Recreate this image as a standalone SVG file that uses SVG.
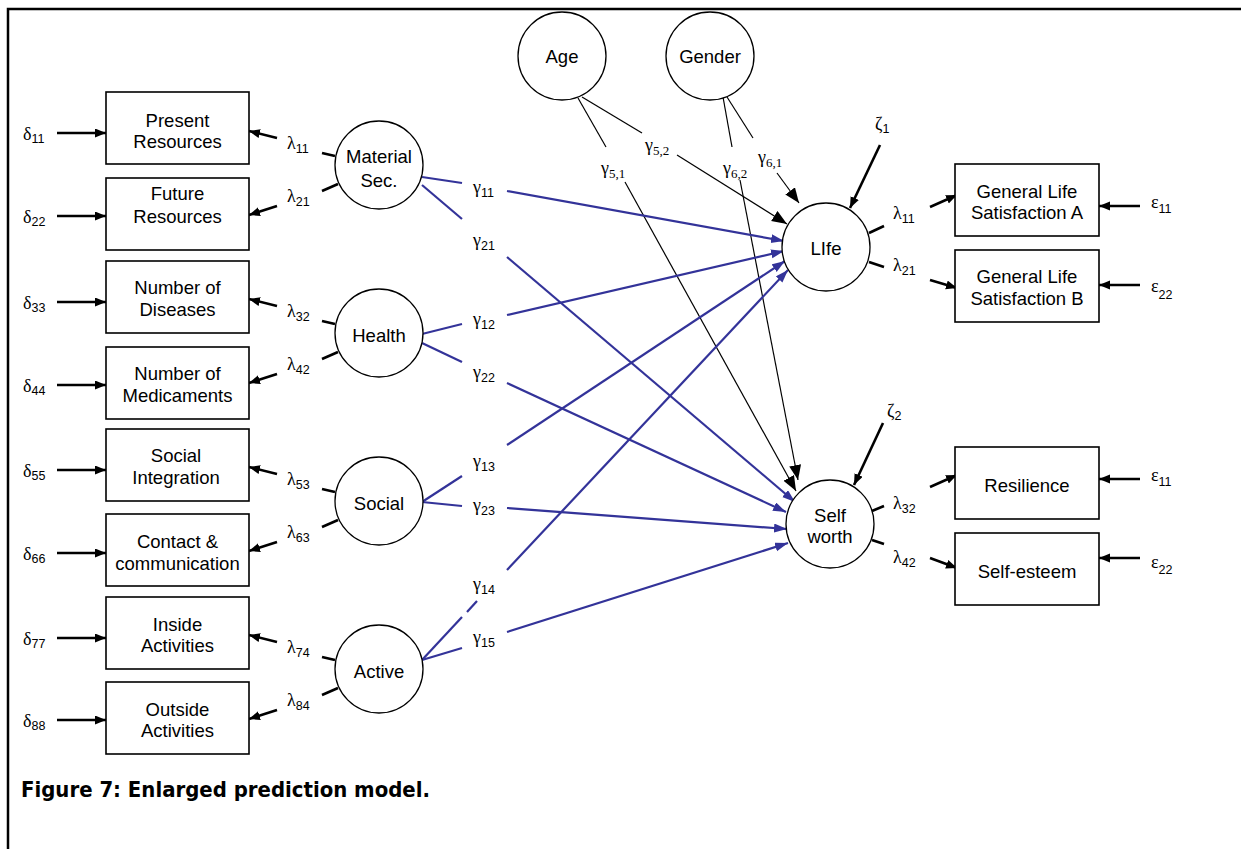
<svg xmlns="http://www.w3.org/2000/svg" width="1241" height="849" viewBox="0 0 1241 849">
<defs>
<style>
.box{fill:#fff;stroke:#000;stroke-width:1.6}
.circ{fill:#fff;stroke:#000;stroke-width:1.3}
.t{font-family:"Liberation Sans",Arial,sans-serif;font-size:18.5px;text-anchor:middle;fill:#000}
.g{font-family:"Liberation Serif","Times New Roman",serif;font-size:18px;fill:#000}
.sub{font-family:"Liberation Sans",Arial,sans-serif;font-size:12.5px}
.subs{font-family:"Liberation Serif","Times New Roman",serif;font-size:13px}
.thick{stroke:#000;stroke-width:2.6;fill:none}
.thin{stroke:#000;stroke-width:1.2;fill:none}
.blue{stroke:#333399;stroke-width:2.2;fill:none}
.frame{stroke:#000;stroke-width:2.5;fill:none}
.cap{font-family:"DejaVu Sans Condensed","DejaVu Sans",sans-serif;font-stretch:condensed;font-weight:bold;font-size:22px;fill:#000}
</style>
<marker id="ak" markerUnits="userSpaceOnUse" markerWidth="12" markerHeight="10" refX="11" refY="4.5" orient="auto"><path d="M0,0 L11,4.5 L0,9 z" fill="#000"/></marker>
<marker id="ab" markerUnits="userSpaceOnUse" markerWidth="14" markerHeight="10" refX="13" refY="4.5" orient="auto"><path d="M0,0 L13,4.5 L0,9 z" fill="#333399"/></marker>
<marker id="abig" markerUnits="userSpaceOnUse" markerWidth="16" markerHeight="13" refX="15" refY="6" orient="auto"><path d="M0,0 L15,6 L0,12 z" fill="#000"/></marker>
</defs>
<rect width="1241" height="849" fill="#fff"/>
<path class="frame" d="M8,849 L8,9 L1241,9"/>

<g id="connectors">
  <!-- delta arrows -->
  <g class="thick" marker-end="url(#ak)">
    <line x1="57" y1="133" x2="106" y2="133"/>
    <line x1="57" y1="216" x2="106" y2="216"/>
    <line x1="57" y1="302" x2="106" y2="302"/>
    <line x1="57" y1="385" x2="106" y2="385"/>
    <line x1="57" y1="470" x2="106" y2="470"/>
    <line x1="57" y1="553" x2="106" y2="553"/>
    <line x1="57" y1="638" x2="106" y2="638"/>
    <line x1="57" y1="720" x2="106" y2="720"/>
    <!-- left lambda arrows -->
    <line x1="277" y1="138" x2="249" y2="131"/>
    <line x1="277" y1="206" x2="249" y2="215"/>
    <line x1="277" y1="306" x2="249" y2="299"/>
    <line x1="277" y1="374" x2="249" y2="383"/>
    <line x1="277" y1="474" x2="249" y2="467"/>
    <line x1="277" y1="542" x2="249" y2="551"/>
    <line x1="277" y1="642" x2="249" y2="635"/>
    <line x1="277" y1="710" x2="249" y2="719"/>
    <!-- right lambda arrows -->
    <line x1="930" y1="207" x2="957" y2="195"/>
    <line x1="930" y1="280" x2="957" y2="288"/>
    <line x1="930" y1="487" x2="957" y2="475"/>
    <line x1="930" y1="558" x2="957" y2="568"/>
    <!-- epsilon arrows -->
    <line x1="1140" y1="206" x2="1099" y2="206"/>
    <line x1="1140" y1="285" x2="1099" y2="285"/>
    <line x1="1140" y1="479" x2="1099" y2="479"/>
    <line x1="1140" y1="558" x2="1099" y2="558"/>
    <!-- zeta arrows -->
    <line x1="880" y1="145" x2="850" y2="208"/>
    <line x1="883" y1="423" x2="854" y2="485"/>
  </g>
  <!-- stubs from latent circles -->
  <g class="thick">
    <line x1="322" y1="153" x2="335" y2="156"/>
    <line x1="322" y1="191" x2="338" y2="184"/>
    <line x1="322" y1="321" x2="335" y2="324"/>
    <line x1="322" y1="359" x2="338" y2="352"/>
    <line x1="322" y1="489" x2="335" y2="492"/>
    <line x1="322" y1="527" x2="338" y2="520"/>
    <line x1="322" y1="657" x2="335" y2="660"/>
    <line x1="322" y1="695" x2="338" y2="688"/>
    <line x1="869" y1="233" x2="884" y2="226"/>
    <line x1="869" y1="262" x2="884" y2="267"/>
    <line x1="872" y1="511" x2="884" y2="506"/>
    <line x1="872" y1="540" x2="884" y2="544"/>
  </g>
  <!-- covariates (thin black) -->
  <g class="thin">
    <line x1="582" y1="97" x2="642" y2="133"/>
    <line x1="578" y1="98" x2="606" y2="147"/>
    <line x1="723" y1="97" x2="732" y2="147"/>
    <line x1="727" y1="97" x2="753" y2="138"/>
  </g>
  <g class="thin" marker-end="url(#abig)">
    <line x1="677" y1="155" x2="787" y2="224"/>
    <line x1="625" y1="182" x2="796" y2="491"/>
    <line x1="740" y1="180" x2="798" y2="480"/>
    <line x1="777" y1="173" x2="799" y2="203"/>
  </g>
  <!-- blue structural paths -->
  <g class="blue">
    <line x1="422" y1="177" x2="462" y2="183"/>
    <line x1="422" y1="185" x2="462" y2="219"/>
    <line x1="422" y1="334" x2="462" y2="324"/>
    <line x1="422" y1="343" x2="462" y2="362"/>
    <line x1="422" y1="502" x2="462" y2="476"/>
    <line x1="422" y1="502" x2="462" y2="506"/>
    <line x1="422" y1="660" x2="462" y2="617"/>
    <line x1="467" y1="612" x2="477" y2="601"/>
    <line x1="422" y1="660" x2="462" y2="648"/>
  </g>
  <g class="blue" marker-end="url(#ab)">
    <line x1="507" y1="191" x2="784" y2="241"/>
    <line x1="507" y1="257" x2="795" y2="502"/>
    <line x1="507" y1="315" x2="784" y2="251"/>
    <line x1="507" y1="383" x2="786" y2="512"/>
    <line x1="507" y1="445" x2="785" y2="261"/>
    <line x1="507" y1="508" x2="787" y2="529"/>
    <line x1="507" y1="570" x2="788" y2="270"/>
    <line x1="507" y1="632" x2="788" y2="543"/>
  </g>

  <!-- labels: delta -->
  <g class="g">
    <text x="23" y="140">δ<tspan class="sub" dy="3">11</tspan></text>
    <text x="23" y="223">δ<tspan class="sub" dy="3">22</tspan></text>
    <text x="23" y="309">δ<tspan class="sub" dy="3">33</tspan></text>
    <text x="23" y="392">δ<tspan class="sub" dy="3">44</tspan></text>
    <text x="23" y="477">δ<tspan class="sub" dy="3">55</tspan></text>
    <text x="23" y="560">δ<tspan class="sub" dy="3">66</tspan></text>
    <text x="23" y="645">δ<tspan class="sub" dy="3">77</tspan></text>
    <text x="23" y="727">δ<tspan class="sub" dy="3">88</tspan></text>
    <!-- lambda left -->
    <text x="287" y="149">λ<tspan class="sub" dy="4">11</tspan></text>
    <text x="287" y="202">λ<tspan class="sub" dy="4">21</tspan></text>
    <text x="287" y="317">λ<tspan class="sub" dy="4">32</tspan></text>
    <text x="287" y="370">λ<tspan class="sub" dy="4">42</tspan></text>
    <text x="287" y="485">λ<tspan class="sub" dy="4">53</tspan></text>
    <text x="287" y="538">λ<tspan class="sub" dy="4">63</tspan></text>
    <text x="287" y="653">λ<tspan class="sub" dy="4">74</tspan></text>
    <text x="287" y="706">λ<tspan class="sub" dy="4">84</tspan></text>
    <!-- gamma blue -->
    <text x="473" y="193">γ<tspan class="sub" dy="4">11</tspan></text>
    <text x="473" y="246">γ<tspan class="sub" dy="4">21</tspan></text>
    <text x="473" y="325">γ<tspan class="sub" dy="4">12</tspan></text>
    <text x="473" y="378">γ<tspan class="sub" dy="4">22</tspan></text>
    <text x="473" y="467">γ<tspan class="sub" dy="4">13</tspan></text>
    <text x="473" y="511">γ<tspan class="sub" dy="4">23</tspan></text>
    <text x="473" y="590">γ<tspan class="sub" dy="4">14</tspan></text>
    <text x="473" y="643">γ<tspan class="sub" dy="4">15</tspan></text>
    <!-- gamma covariates -->
    <text x="645" y="151">γ<tspan class="subs" dy="4">5,2</tspan></text>
    <text x="601" y="174">γ<tspan class="subs" dy="4">5,1</tspan></text>
    <text x="723" y="174">γ<tspan class="subs" dy="4">6,2</tspan></text>
    <text x="758" y="163">γ<tspan class="subs" dy="4">6,1</tspan></text>
    <!-- zeta -->
    <text x="875" y="130">ζ<tspan class="sub" dy="3">1</tspan></text>
    <text x="887" y="417">ζ<tspan class="sub" dy="3">2</tspan></text>
    <!-- lambda right -->
    <text x="893" y="219">λ<tspan class="sub" dy="4">11</tspan></text>
    <text x="893" y="271">λ<tspan class="sub" dy="4">21</tspan></text>
    <text x="893" y="509">λ<tspan class="sub" dy="4">32</tspan></text>
    <text x="893" y="563">λ<tspan class="sub" dy="4">42</tspan></text>
    <!-- epsilon -->
    <text x="1151" y="208">ε<tspan class="sub" dy="5">11</tspan></text>
    <text x="1151" y="292">ε<tspan class="sub" dy="7">22</tspan></text>
    <text x="1151" y="481">ε<tspan class="sub" dy="5">11</tspan></text>
    <text x="1151" y="568">ε<tspan class="sub" dy="6">22</tspan></text>
  </g>
</g>

<!-- indicator boxes left -->
<g id="n-present"><rect class="box" x="106" y="92" width="143" height="72"/><text class="t" x="177.5" y="127">Present</text><text class="t" x="177.5" y="148">Resources</text></g>
<g id="n-future"><rect class="box" x="106" y="178" width="143" height="72"/><text class="t" x="177.5" y="200">Future</text><text class="t" x="177.5" y="223">Resources</text></g>
<g id="n-diseases"><rect class="box" x="106" y="261" width="143" height="72"/><text class="t" x="177.5" y="294">Number of</text><text class="t" x="177.5" y="316">Diseases</text></g>
<g id="n-medicaments"><rect class="box" x="106" y="347" width="143" height="72"/><text class="t" x="177.5" y="380">Number of</text><text class="t" x="177.5" y="402">Medicaments</text></g>
<g id="n-integration"><rect class="box" x="106" y="429" width="143" height="72"/><text class="t" x="176" y="462">Social</text><text class="t" x="176" y="484">Integration</text></g>
<g id="n-contact"><rect class="box" x="106" y="514" width="143" height="72"/><text class="t" x="177.5" y="548">Contact &amp;</text><text class="t" x="177.5" y="570">communication</text></g>
<g id="n-inside"><rect class="box" x="106" y="597" width="143" height="72"/><text class="t" x="177.5" y="631">Inside</text><text class="t" x="177.5" y="652">Activities</text></g>
<g id="n-outside"><rect class="box" x="106" y="682" width="143" height="72"/><text class="t" x="177.5" y="716">Outside</text><text class="t" x="177.5" y="737">Activities</text></g>

<!-- latent exogenous -->
<g id="n-material"><circle class="circ" cx="379" cy="165" r="44"/><text class="t" x="379" y="163">Material</text><text class="t" x="379" y="187">Sec.</text></g>
<g id="n-health"><circle class="circ" cx="379" cy="333" r="44"/><text class="t" x="379" y="342">Health</text></g>
<g id="n-social"><circle class="circ" cx="379" cy="501" r="44"/><text class="t" x="379" y="510">Social</text></g>
<g id="n-active"><circle class="circ" cx="379" cy="669" r="44"/><text class="t" x="379" y="678">Active</text></g>

<!-- covariates -->
<g id="n-age"><circle class="circ" cx="562" cy="56" r="44"/><text class="t" x="562" y="63">Age</text></g>
<g id="n-gender"><circle class="circ" cx="710" cy="56" r="44"/><text class="t" x="710" y="63">Gender</text></g>

<!-- endogenous -->
<g id="n-life"><circle class="circ" cx="826" cy="247" r="44"/><text class="t" x="826" y="255">LIfe</text></g>
<g id="n-selfworth"><circle class="circ" cx="830" cy="524" r="44"/><text class="t" x="830" y="522">Self</text><text class="t" x="830" y="543">worth</text></g>

<!-- indicator boxes right -->
<g id="n-glsa"><rect class="box" x="955" y="164" width="144" height="72"/><text class="t" x="1027" y="198">General Life</text><text class="t" x="1027" y="219">Satisfaction A</text></g>
<g id="n-glsb"><rect class="box" x="955" y="250" width="144" height="72"/><text class="t" x="1027" y="283">General Life</text><text class="t" x="1027" y="305">Satisfaction B</text></g>
<g id="n-resilience"><rect class="box" x="955" y="447" width="144" height="72"/><text class="t" x="1027" y="492">Resilience</text></g>
<g id="n-selfesteem"><rect class="box" x="955" y="533" width="144" height="72"/><text class="t" x="1027" y="578">Self-esteem</text></g>

<text class="cap" x="21" y="797" textLength="409" lengthAdjust="spacingAndGlyphs">Figure 7: Enlarged prediction model.</text>
</svg>
